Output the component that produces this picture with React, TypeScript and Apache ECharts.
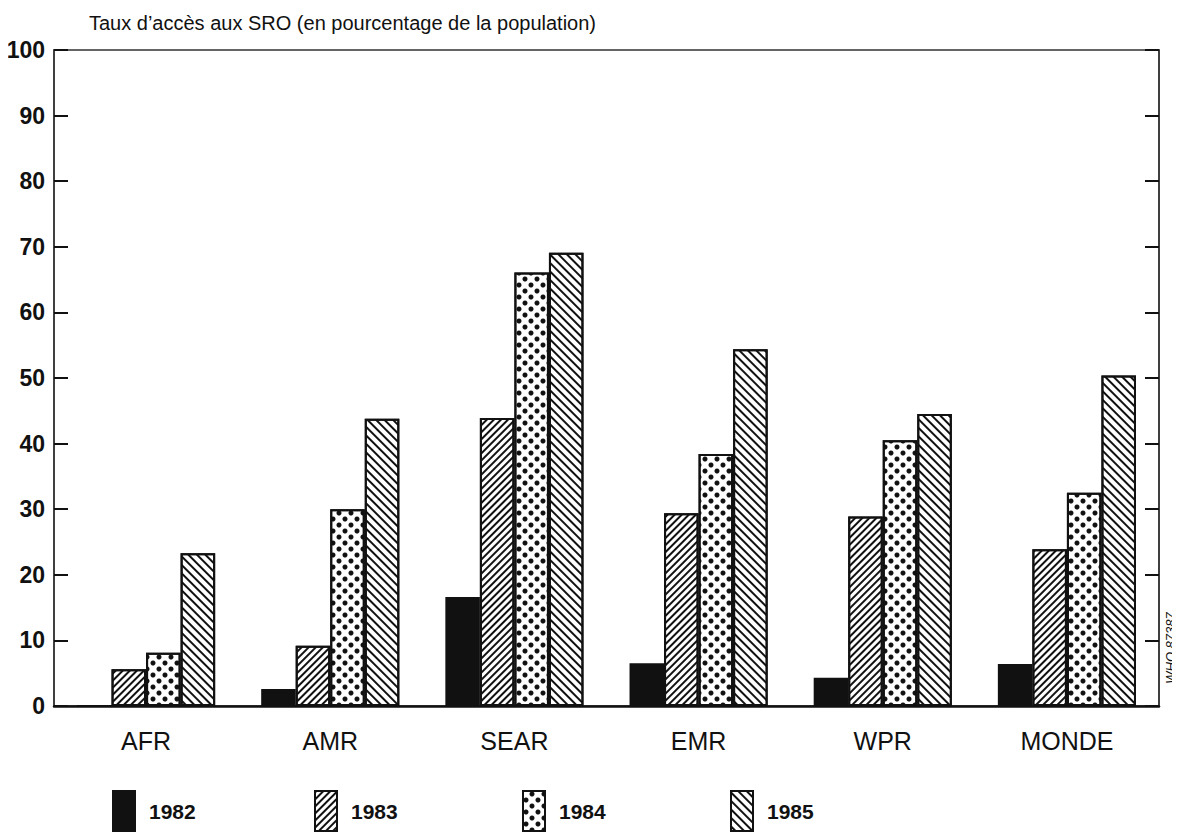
import React, { useEffect, useRef } from "react";
import * as echarts from "echarts";

const categories = ["AFR", "AMR", "SEAR", "EMR", "WPR", "MONDE"];
const years = ["1982", "1983", "1984", "1985"];
const v1982 = [0, 2.6, 16.6, 6.5, 4.3, 6.4];
const v1983 = [5.6, 9.2, 43.9, 29.4, 28.9, 23.9];
const v1984 = [8.1, 30.0, 66.1, 38.4, 40.5, 32.5];
const v1985 = [23.3, 43.8, 69.1, 54.4, 44.5, 50.4];
const yTicks = [0, 10, 20, 30, 40, 50, 60, 70, 80, 90, 100];
const titleText = "Taux d\u2019accès aux SRO (en pourcentage de la population)";
const stampText = "WHO 87387";

const INK = "#111";

const decals: any[] = [
  null,
  {
    symbol: "rect",
    symbolSize: 1,
    color: INK,
    backgroundColor: "#fff",
    dashArrayX: [1, 0],
    dashArrayY: [1.4, 2.4],
    rotation: -Math.PI / 4,
  },
  {
    symbol: "circle",
    symbolSize: 0.85,
    color: INK,
    backgroundColor: "#fff",
    dashArrayX: [
      [5.5, 5.5],
      [0, 5.5, 5.5, 0],
    ],
    dashArrayY: [5.5, 0],
    rotation: 0,
  },
  {
    symbol: "rect",
    symbolSize: 1,
    color: INK,
    backgroundColor: "#fff",
    dashArrayX: [1, 0],
    dashArrayY: [2, 3.5],
    rotation: Math.PI / 4,
  },
];

const seriesValues = [v1982, v1983, v1984, v1985];
const legendLefts = [112, 314, 522, 730];

export default function App() {
  const ref = useRef<HTMLDivElement>(null);
  useEffect(() => {
    if (!ref.current) return;
    const chart = echarts.init(ref.current, undefined, { renderer: "svg" });
    const yLabelFont = {
      fontFamily: "'Liberation Sans Narrow', 'Arial Narrow', 'Liberation Sans', sans-serif",
      fontWeight: "bold",
      fontSize: 23,
      color: INK,
    };
    chart.setOption({
      animation: false,
      backgroundColor: "#fff",
      title: {
        text: titleText,
        left: 84,
        top: 8,
        textStyle: {
          fontFamily: "'Liberation Sans', Arial, sans-serif",
          fontWeight: "normal",
          fontSize: 20,
          color: INK,
        },
      },
      grid: {
        left: 54,
        right: 21,
        top: 50,
        bottom: 134,
        show: true,
        borderColor: "#333",
        borderWidth: 1.5,
        backgroundColor: "transparent",
      },
      legend: years.map((y, i) => ({
        data: [y],
        left: legendLefts[i],
        top: 790,
        padding: 0,
        itemWidth: 22,
        itemHeight: 40,
        icon: "rect",
        textStyle: {
          fontFamily: "'Liberation Sans', Arial, sans-serif",
          fontWeight: "bold",
          fontSize: 21,
          color: INK,
          padding: [0, 0, 0, 9],
        },
      })),
      xAxis: {
        type: "category",
        data: categories,
        axisLine: { show: true, lineStyle: { color: INK, width: 2.5 } },
        axisTick: { show: false },
        axisLabel: {
          margin: 22,
          fontFamily: "'Liberation Sans', Arial, sans-serif",
          fontSize: 25,
          color: INK,
        },
      },
      yAxis: [
        {
          type: "value",
          min: 0,
          max: 100,
          interval: 10,
          position: "left",
          splitLine: { show: false },
          axisLine: { show: true, lineStyle: { color: "#333", width: 1.5 } },
          axisTick: { show: true, inside: true, length: 14, lineStyle: { color: INK, width: 2 } },
          axisLabel: {
            margin: 9,
            ...yLabelFont,
            formatter: (v: number) => (yTicks.includes(v) ? String(v) : ""),
          },
        },
        {
          type: "value",
          min: 0,
          max: 100,
          interval: 10,
          position: "right",
          splitLine: { show: false },
          axisLine: { show: true, lineStyle: { color: "#333", width: 1.5 } },
          axisTick: { show: true, inside: true, length: 14, lineStyle: { color: INK, width: 2 } },
          axisLabel: { show: false },
        },
      ],
      series: years.map((y, i) => ({
        name: y,
        type: "bar",
        yAxisIndex: 0,
        data: seriesValues[i],
        barGap: "0%",
        barCategoryGap: "25%",
        itemStyle: {
          color: i === 0 ? INK : "#fff",
          borderColor: INK,
          borderWidth: 2,
          ...(decals[i] ? { decal: decals[i] } : {}),
        },
      })),
      graphic: [
        {
          type: "text",
          x: 1170,
          y: 648,
          rotation: Math.PI / 2,
          style: {
            text: stampText,
            fontFamily: "'Liberation Sans', Arial, sans-serif",
            fontStyle: "italic",
            fontSize: 13,
            fill: INK,
            align: "center",
            verticalAlign: "middle",
          },
        },
      ],
    });
    return () => chart.dispose();
  }, []);
  return <div ref={ref} style={{ width: 1180, height: 840, margin: -8 }} />;
}
